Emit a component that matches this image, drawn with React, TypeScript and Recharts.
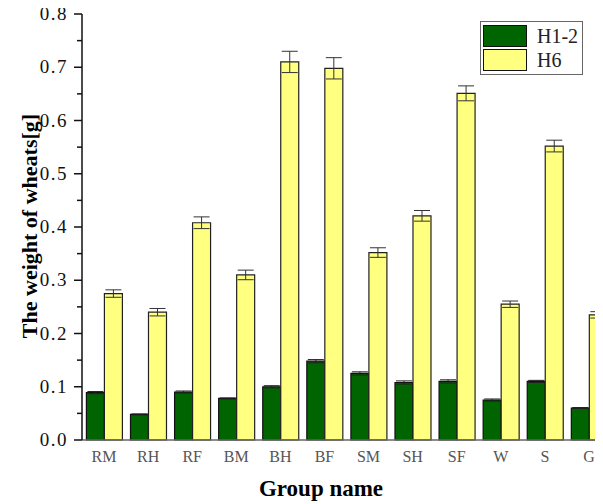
import React from 'react';
import { BarChart, Bar, XAxis, YAxis, ErrorBar, Legend, Label } from 'recharts';

const groups = ['RM', 'RH', 'RF', 'BM', 'BH', 'BF', 'SM', 'SH', 'SF', 'W', 'S', 'G'];
const h12 = [0.089, 0.048, 0.09, 0.078, 0.1, 0.148, 0.125, 0.108, 0.11, 0.075, 0.11, 0.06];
const h12Err = [0.002, 0.001, 0.002, 0.001, 0.002, 0.003, 0.003, 0.003, 0.003, 0.002, 0.002, 0.001];
const h6 = [0.275, 0.24, 0.408, 0.31, 0.71, 0.698, 0.352, 0.421, 0.651, 0.255, 0.552, 0.235];
const h6Err = [0.007, 0.007, 0.011, 0.009, 0.02, 0.02, 0.009, 0.01, 0.014, 0.006, 0.011, 0.006];
const yTicks = [0, 0.05, 0.1, 0.15, 0.2, 0.25, 0.3, 0.35, 0.4, 0.45, 0.5, 0.55, 0.6, 0.65, 0.7, 0.75, 0.8];

const data = groups.map((g, i) => ({
  name: g,
  h12: h12[i],
  h12Err: h12Err[i],
  h6: h6[i],
  h6Err: h6Err[i],
}));

const serif = '"Liberation Serif", "DejaVu Serif", serif';

const YTick = (props: any) => {
  const { x, y, payload } = props;
  const v = payload.value;
  const major = Math.abs(Math.round(v * 10) - v * 10) < 1e-6;
  return (
    <g>
      <line x1={x - (major ? 8 : 5)} x2={x} y1={y} y2={y} stroke="#111" strokeWidth={1.5} />
      {major && (
        <text x={x - 14} y={y} dy={6} textAnchor="end" fontFamily={serif} fontSize={19} fill="#111" letterSpacing={1.5}>
          {v.toFixed(1)}
        </text>
      )}
    </g>
  );
};

const XTick = (props: any) => {
  const { x, y, payload } = props;
  return (
    <text x={x} y={y} dy={14} textAnchor="middle" fontFamily={serif} fontSize={16} fill="#555">
      {payload.value}
    </text>
  );
};

const LegendBox = () => (
  <div style={{ border: '1px solid #666', background: '#fff', padding: '2px 4px 2px 2px', fontFamily: serif }}>
    {[
      { label: 'H1-2', color: '#006400' },
      { label: 'H6', color: '#ffff80' },
    ].map((d) => (
      <div key={d.label} style={{ display: 'flex', alignItems: 'center', height: 24 }}>
        <div style={{ width: 42, height: 20, background: d.color, border: '1px solid #111' }} />
        <span style={{ marginLeft: 10, fontSize: 20, color: '#222' }}>{d.label}</span>
      </div>
    ))}
  </div>
);

export default function App() {
  return (
    <div style={{ width: 603, height: 504, margin: '-8px 0 0 -8px', overflow: 'hidden', background: '#fff' }}>
      <BarChart
        width={628}
        height={504}
        data={data}
        margin={{ top: 14, right: 17, bottom: 34, left: 0 }}
        barGap={0}
        barCategoryGap="10%"
      >
        <XAxis
          dataKey="name"
          tickLine={false}
          axisLine={{ stroke: '#666', strokeWidth: 1.5 }}
          tick={<XTick />}
          height={30}
          interval={0}
        >
          <Label
            content={() => (
              <text
                x={321}
                y={496}
                textAnchor="middle"
                fontFamily={serif}
                fontWeight="bold"
                fontSize={23}
                fill="#000"
              >
                Group name
              </text>
            )}
          />
        </XAxis>
        <YAxis
          width={82}
          domain={[0, 0.8]}
          ticks={yTicks}
          interval={0}
          tickSize={0}
          tickMargin={0}
          tickLine={false}
          axisLine={{ stroke: '#111', strokeWidth: 1.5 }}
          tick={<YTick />}
        >
          <Label
            content={() => (
              <text
                x={0}
                y={0}
                transform="translate(37, 226) rotate(-90)"
                textAnchor="middle"
                fontFamily={serif}
                fontWeight="bold"
                fontSize={22}
                fill="#000"
              >
                The weight of wheats[g]
              </text>
            )}
          />
        </YAxis>
        <Legend
          verticalAlign="middle"
          align="center"
          layout="vertical"
          wrapperStyle={{ top: 21, left: 480, width: 'auto' }}
          content={<LegendBox />}
        />
        <Bar dataKey="h12" fill="#006400" stroke="#111" strokeWidth={1.2} isAnimationActive={false}>
          <ErrorBar dataKey="h12Err" width={8} stroke="#222" strokeWidth={1} />
        </Bar>
        <Bar dataKey="h6" fill="#ffff80" stroke="#222" strokeWidth={1.2} isAnimationActive={false}>
          <ErrorBar dataKey="h6Err" width={8} stroke="#333" strokeWidth={1} />
        </Bar>
      </BarChart>
    </div>
  );
}
